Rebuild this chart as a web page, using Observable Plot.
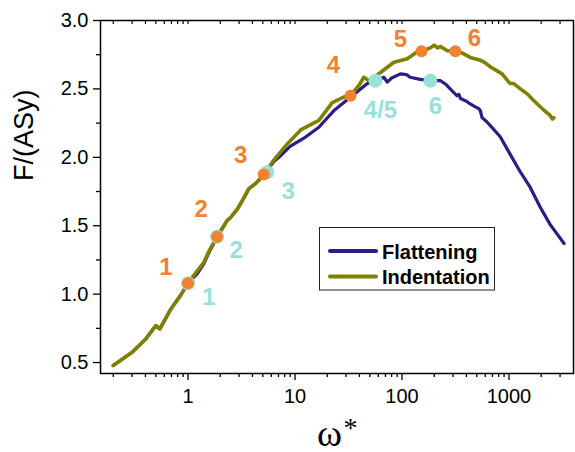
<!DOCTYPE html>
<html><head><meta charset="utf-8">
<script src="https://cdn.jsdelivr.net/npm/d3@7"></script>
<script src="https://cdn.jsdelivr.net/npm/@observablehq/plot@0.6"></script>
<style>body{margin:0;background:#fff;} svg{display:block}</style>
</head><body><div id="chart"></div>
<script>
// ---- data ----
const seriesNames = ["Flattening", "Indentation"];

const flattenOmega = [0.2, 0.3, 0.4, 0.5, 0.545, 0.69, 0.85, 1.0, 1.22, 1.40, 1.56, 1.87, 2.33, 2.5, 2.88, 3.2, 3.7, 4.3, 5.1, 6.34, 7.3, 9.0, 12.1, 16.7, 23, 31.8, 41, 47.4, 56.5, 67.7, 72.7, 80, 96.7, 110, 119, 148, 184, 229, 260, 282, 326, 340, 352, 400, 434, 480, 523, 540, 560, 620, 672, 828, 1020, 1260, 1580, 1960, 2420, 3270];
const flattenF     = [0.478, 0.575, 0.67, 0.77, 0.746, 0.89, 0.99, 1.08, 1.15, 1.22, 1.30, 1.42, 1.54, 1.56, 1.62, 1.68, 1.77, 1.81, 1.87, 1.97, 2.01, 2.08, 2.14, 2.22, 2.34, 2.43, 2.50, 2.54, 2.56, 2.585, 2.55, 2.58, 2.61, 2.605, 2.585, 2.57, 2.56, 2.56, 2.53, 2.50, 2.45, 2.46, 2.43, 2.41, 2.39, 2.37, 2.355, 2.34, 2.29, 2.26, 2.23, 2.15, 2.025, 1.90, 1.78, 1.635, 1.51, 1.37];

const indentOmega = [0.2, 0.3, 0.4, 0.5, 0.545, 0.69, 0.85, 1.0, 1.22, 1.40, 1.56, 1.87, 2.33, 2.5, 2.88, 3.2, 3.7, 4.3, 5.1, 6.34, 8.5, 11.3, 16.7, 22.3, 28.5, 33, 39.5, 44, 49, 63, 84, 112, 138, 152, 184, 200, 214, 229, 263, 315, 370, 434, 540, 600, 672, 862, 1020, 1100, 1280, 1500, 1700, 2150, 2400, 2550, 2630];
const indentF     = [0.478, 0.575, 0.67, 0.77, 0.746, 0.89, 0.99, 1.08, 1.17, 1.23, 1.31, 1.42, 1.54, 1.56, 1.62, 1.68, 1.77, 1.81, 1.87, 1.98, 2.10, 2.20, 2.27, 2.40, 2.44, 2.45, 2.525, 2.585, 2.56, 2.62, 2.695, 2.72, 2.77, 2.776, 2.80, 2.82, 2.80, 2.81, 2.78, 2.775, 2.76, 2.73, 2.71, 2.69, 2.66, 2.61, 2.54, 2.54, 2.50, 2.46, 2.415, 2.34, 2.31, 2.28, 2.29];

const orangeOmega  = [1.0, 1.87, 5.1, 33, 152, 315];
const orangeF      = [1.08, 1.42, 1.874, 2.45, 2.776, 2.775];
const orangeLabels = ["1", "2", "3", "4", "5", "6"];

const cyanOmega  = [1.0, 1.87, 5.5, 56.5, 184];
const cyanF      = [1.08, 1.42, 1.891, 2.56, 2.56];
const cyanLabels = ["1", "2", "3", "4/5", "6"];

const xMajorTicks = [1, 10, 100, 1000];
const xMinorTicks = [0.2,0.3,0.4,0.5,0.6,0.7,0.8,0.9, 2,3,4,5,6,7,8,9, 20,30,40,50,60,70,80,90, 200,300,400,500,600,700,800,900, 2000,3000];
const yMajorTicks = [0.5, 1.0, 1.5, 2.0, 2.5, 3.0];
const yMinorTicks = [0.75, 1.25, 1.75, 2.25, 2.75];

// ---- styles / layout ----
const colFlat = "#2E1B88", colIndent = "#808000", colOrange = "#F4812F", colCyan = "#98E0DA";
const orangeOffsets = [[-22,-16],[-16,-27],[-23,-19],[-17,-30],[-21,-12],[19,-13]];
const cyanOffsets   = [[21,14],[19,14],[21,19],[5,30],[5,26]];

const flat = flattenOmega.map((w,i)=>({w, f: flattenF[i]}));
const indent = indentOmega.map((w,i)=>({w, f: indentF[i]}));

const labelMarks = [];
orangeLabels.forEach((t,i)=>labelMarks.push(Plot.text([i], {x: j=>orangeOmega[j], y: j=>orangeF[j], text: j=>orangeLabels[j], dx: orangeOffsets[i][0], dy: orangeOffsets[i][1], fill: colOrange, fontSize: 24, fontWeight: "bold"})));
cyanLabels.forEach((t,i)=>labelMarks.push(Plot.text([i], {x: j=>cyanOmega[j], y: j=>cyanF[j], text: j=>cyanLabels[j], dx: cyanOffsets[i][0], dy: cyanOffsets[i][1], fill: colCyan, fontSize: 24, fontWeight: "bold"})));

const chart = Plot.plot({
  width: 575, height: 452,
  marginLeft: 100, marginRight: 2, marginTop: 20, marginBottom: 79,
  style: {fontFamily: "'Liberation Sans', Arial, sans-serif", fontSize: "20px", color: "black", background: "white"},
  x: {type: "log", domain: [0.152, 4008]},
  y: {domain: [0.42, 3.0]},
  marks: [
    Plot.axisX(xMajorTicks, {tickSize: 7, tickPadding: 8, tickFormat: d => String(d), label: null, strokeWidth: 1.3}),
    Plot.axisX(xMinorTicks, {tickSize: 4, tickFormat: () => "", label: null, strokeWidth: 1.3}),
    Plot.axisX(xMajorTicks.concat(xMinorTicks), {anchor: "top", tickSize: -3, tickFormat: () => "", label: null, strokeWidth: 1.2}),
    Plot.axisY(yMajorTicks, {tickSize: 7, tickPadding: 5, tickFormat: d3.format(".1f"), label: null, strokeWidth: 1.3}),
    Plot.axisY(yMinorTicks, {tickSize: 4, tickFormat: () => "", label: null, strokeWidth: 1.3}),
    Plot.line(flat, {x: "w", y: "f", stroke: colFlat, strokeWidth: 3.2}),
    Plot.line(indent, {x: "w", y: "f", stroke: colIndent, strokeWidth: 3.6}),
    Plot.dot(cyanOmega.map((w,i)=>i), {x: i=>cyanOmega[i], y: i=>cyanF[i], r: 7, fill: colCyan}),
    Plot.dot(orangeOmega.map((w,i)=>i), {x: i=>orangeOmega[i], y: i=>orangeF[i], r: 6, fill: colOrange}),
    ...labelMarks,
    Plot.text(["F/(ASy)"], {frameAnchor: "left", text: d=>d, rotate: -90, dx: -76, dy: -16, fontSize: 27}),
    Plot.text(["\u03C9"], {frameAnchor: "bottom", text: d=>d, fontFamily: "'Liberation Serif', 'Times New Roman', serif", fontSize: 38, lineAnchor: "bottom", dx: -7.5, dy: 72}),
    Plot.text(["*"], {frameAnchor: "bottom", text: d=>d, fontFamily: "'Liberation Serif', 'Times New Roman', serif", fontSize: 28, dx: 13.5, dy: 63.5}),
    Plot.frame({stroke: "black", strokeWidth: 1.5})
  ]
});

// legend (inside the plot area)
const svg = d3.select(chart);
const lg = svg.append("g").attr("font-family", "'Liberation Sans', Arial, sans-serif").attr("text-anchor", "start");
lg.append("rect").attr("x", 319.5).attr("y", 227.5).attr("width", 175).attr("height", 62.5)
  .attr("fill", "white").attr("stroke", "#222").attr("stroke-width", 1);
const legendColors = [colFlat, colIndent];
seriesNames.forEach((name, i) => {
  const cy = 251 + i * 25.5;
  lg.append("line").attr("x1", 330).attr("x2", 376).attr("y1", cy).attr("y2", cy)
    .attr("stroke", legendColors[i]).attr("stroke-width", 4).attr("stroke-linecap", "round");
  lg.append("text").attr("x", 382).attr("y", cy + 7.5).attr("font-size", 20).attr("font-weight", "bold")
    .attr("text-anchor", "start").attr("fill", "black").text(name);
});

document.getElementById("chart").appendChild(chart);
</script>
</body></html>
